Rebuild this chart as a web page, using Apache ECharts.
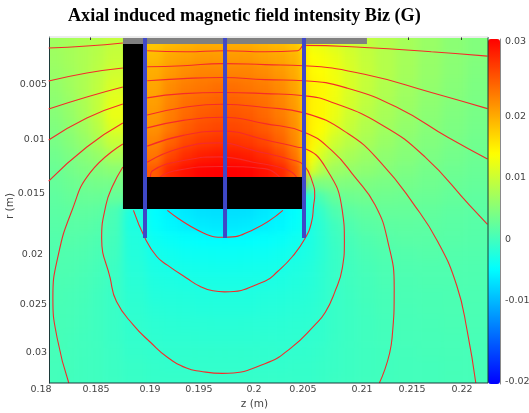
<!DOCTYPE html>
<html><head><meta charset="utf-8">
<style>html,body{margin:0;padding:0;background:#fff}#c{width:529px;height:413px}</style>
<script src="https://cdn.jsdelivr.net/npm/echarts@6/dist/echarts.min.js"></script>
</head><body><div id="c"></div>
<script>
// all lengths below are millimetres, field values are milligauss
const MM = 0.001, MG = 0.001;
const zEdges = [181.13,182.45,183.77,185.09,186.42,188.11,190.38,191.89,193.40,194.91,196.42,197.74,199.25,200.75,202.26,203.77,205.19,206.32,207.45,208.77,210.28,211.98,213.87,215.94,218.21,220.47,222.55];
const rEdges = [0.52,1.83,3.13,4.44,5.75,7.05,8.36,9.66,10.97,12.28,13.58,14.89,16.19,17.50,18.81,20.11,21.42,22.72,24.03,25.34,26.64,27.95,29.25,30.56,31.87,32.80];
const N = null;
const field = [
[7.0,7.5,8.0,8.6,9.6,N,18,19,19.5,20,20,20,20,19.5,19,18,13,12.5,11.5,10.5,9.5,8.5,7.5,6.5,5.5,4.8],
[6.8,7.4,8.0,8.8,9.9,N,19,20.5,21,21.5,21.5,21.5,21.5,21,20.5,19.5,14,13.5,12.5,11,9.7,8.5,7.4,6.4,5.5,4.8],
[6.5,7.2,8.0,9.0,10.5,N,20,21.5,22.5,23,23,23,23,22.5,21.5,20,14.5,14,13,11.3,9.8,8.5,7.3,6.3,5.4,4.7],
[6.1,7.0,8.0,9.3,11.2,N,20.5,22.5,23.5,24,24.5,24.5,24,23.5,22.5,20.5,15,14.5,13.2,11.3,9.7,8.3,7.1,6.1,5.2,4.5],
[5.7,6.6,7.9,9.5,12.0,N,21,23,24.5,25,25.5,25.5,25,24.5,23,21,15,14.5,13,11,9.4,8,6.8,5.8,5,4.3],
[5.2,6.2,7.6,9.5,12.5,N,21.5,23.5,25,26,26.5,26.5,26,25,23.5,21.5,15,14.5,12.6,10.5,8.9,7.6,6.5,5.5,4.7,4.1],
[4.7,5.7,7.0,8.8,11.6,N,22,24,26,27,27.5,27.5,27,26,24.5,22,15,14,11.8,9.8,8.3,7.1,6.1,5.2,4.5,3.9],
[4.2,5.1,6.2,7.8,10.0,N,23,25.5,27.5,28.5,29,29,28.5,27.5,25.5,22.5,15,13,10.4,8.9,7.6,6.5,5.6,4.8,4.2,3.6],
[3.6,4.4,5.3,6.3,7.8,N,24,27.5,29.5,30.5,31,31,30.5,29.5,27.5,24,14,11,8.8,7.6,6.7,5.8,5.1,4.4,3.8,3.3],
[3.1,3.8,4.5,5.0,5.6,N,26,30,31.5,32.5,32.7,32.7,32.5,31.5,30,26,12,8.5,7,6.3,5.7,5.1,4.5,3.9,3.4,3],
[2.7,3.2,3.6,3.9,3.9,N,N,N,N,N,N,N,N,N,N,N,4,4.5,4.8,4.7,4.5,4.2,3.9,3.5,3,2.7],
[2.3,2.7,2.9,2.9,2.7,N,N,N,N,N,N,N,N,N,N,N,-1.5,1,2.6,3.3,3.5,3.4,3.2,3,2.6,2.3],
[2.0,2.2,2.3,2.1,0.8,-2.5,-4.8,-5.6,-6.3,-6.8,-7,-7,-6.8,-6.3,-5.6,-4.6,-2.6,-0.8,1,2,2.5,2.7,2.7,2.5,2.2,2],
[1.7,1.8,1.8,1.5,0.5,-2.6,-4.5,-5.2,-5.7,-6.1,-6.3,-6.3,-6.1,-5.7,-5.2,-4.3,-2.8,-1.5,0,1.1,1.8,2.1,2.2,2.1,1.9,1.7],
[1.4,1.5,1.4,1.0,0.2,-2.3,-3.8,-4.2,-4.5,-4.7,-4.8,-4.8,-4.7,-4.5,-4.2,-3.6,-2.7,-1.6,-0.4,0.5,1.2,1.6,1.8,1.8,1.7,1.5],
[1.2,1.2,1.1,0.7,0,-2.1,-3.2,-3.5,-3.8,-3.9,-4,-4,-3.9,-3.8,-3.5,-3,-2.5,-1.6,-0.6,0.2,0.8,1.2,1.4,1.5,1.4,1.3],
[1.0,1.0,0.8,0.4,-0.3,-1.9,-2.8,-3,-3.2,-3.3,-3.4,-3.4,-3.3,-3.2,-3,-2.6,-2.2,-1.5,-0.7,0,0.5,0.9,1.1,1.2,1.2,1.1],
[0.8,0.8,0.6,0.2,-0.4,-1.7,-2.4,-2.6,-2.8,-2.9,-2.9,-2.9,-2.9,-2.8,-2.6,-2.3,-2,-1.4,-0.7,-0.1,0.3,0.7,0.9,1,1,1],
[0.7,0.6,0.4,0,-0.5,-1.5,-2.1,-2.2,-2.3,-2.4,-2.4,-2.4,-2.4,-2.3,-2.2,-2,-1.8,-1.3,-0.7,-0.2,0.2,0.5,0.7,0.8,0.9,0.9],
[0.6,0.5,0.3,-0.1,-0.5,-1.3,-1.8,-1.9,-2,-2.1,-2.1,-2.1,-2.1,-2,-1.9,-1.7,-1.6,-1.2,-0.7,-0.3,0.1,0.4,0.6,0.7,0.8,0.8],
[0.5,0.4,0.2,-0.1,-0.5,-1.2,-1.5,-1.6,-1.7,-1.7,-1.8,-1.8,-1.7,-1.7,-1.6,-1.5,-1.4,-1.1,-0.7,-0.3,0,0.3,0.5,0.6,0.7,0.7],
[0.4,0.3,0.1,-0.1,-0.5,-1,-1.3,-1.4,-1.4,-1.5,-1.5,-1.5,-1.5,-1.4,-1.4,-1.3,-1.2,-1,-0.6,-0.3,0,0.2,0.4,0.5,0.6,0.6],
[0.4,0.2,0.1,-0.1,-0.4,-0.9,-1.1,-1.2,-1.2,-1.2,-1.2,-1.2,-1.2,-1.2,-1.2,-1.1,-1,-0.8,-0.5,-0.3,-0.1,0.1,0.3,0.4,0.5,0.5],
[0.3,0.2,0,-0.1,-0.4,-0.7,-0.9,-1,-1,-1,-1,-1,-1,-1,-1,-0.9,-0.9,-0.7,-0.5,-0.3,-0.1,0.1,0.2,0.3,0.4,0.5],
[0.3,0.1,0,-0.1,-0.3,-0.6,-0.8,-0.8,-0.8,-0.8,-0.8,-0.8,-0.8,-0.8,-0.8,-0.8,-0.8,-0.6,-0.4,-0.2,0,0.1,0.2,0.3,0.4,0.4]
];
// curves: [z, r] in mm
const lineA = [[181.1,1.55],[184.7,1.36],[188.1,1.08]];
const lineB = [[181.1,4.63],[184.7,3.88],[188.1,3.41]];
const lineC = [[181.1,7.24],[184.7,6.12],[188.1,5.19]];
const lineD = [[181.1,10.13],[184.7,8.08],[188.1,6.77]];
const lineE = [[181.1,13.96],[184.7,10.78],[188.1,8.55]];
const lineF = [[188.1,10.5],[185.0,13.2],[183.3,16.7],[182.0,20.9],[181.5,24.9],[181.9,28.6],[183.0,32.8]];
const lineG = [[188.1,12.65],[187.1,14.5],[186.5,16.2],[186.1,19.3],[186.9,23.0],[187.5,25.2],[189.1,27.4],[190.7,29.0],[192.3,30.4],[194.1,31.4],[195.4,31.7],[197.5,31.9],[201.5,31.0],[204.0,29.5],[206.2,27.4],[207.2,26.2],[208.1,24.3],[208.8,22.1],[209.0,19.6],[208.8,16.7],[207.2,12.65],[205.2,10.9],[204.6,10.8],[201.5,10.1],[197.5,9.3],[193.8,9.7],[190.4,10.7]];
const lineH = [[189.1,16.7],[190.2,19.3],[191.3,21.0],[192.3,21.8],[194.1,23.0],[195.4,23.8],[196.6,24.2],[197.7,24.3],[201.5,23.3],[202.7,22.4],[204.1,21.0],[205.3,19.3],[205.9,17.8],[206.1,16.2],[206.2,15.3],[206.0,14.1],[205.2,12.5],[204.1,12.0],[200.4,11.1],[197.3,10.4],[193.5,10.9],[190.4,12.2]];
const lineI = [[192.3,16.7],[195.7,18.8],[197.7,19.2],[200.4,18.5],[203.2,16.7]];
const lineJ = [[190.7,13.6],[190.9,13.0],[194.1,12.0],[197.3,11.7],[200.4,12.2],[203.6,12.9],[204.5,13.6]];
const lineK = [[212.3,32.8],[213.5,28.6],[213.7,23.9],[213.1,19.6],[211.9,16.2],[210.0,13.6],[207.8,11.1],[205.2,9.4],[201.5,8.6],[197.5,8.0],[193.8,8.3],[190.4,9.0]];
const lineL = [[221.4,32.8],[220.6,28.0],[219.6,23.7],[217.8,19.6],[215.6,16.2],[212.5,12.3],[209.3,9.5],[205.2,7.6],[201.5,7.1],[197.5,6.8],[193.8,7.1],[190.4,7.8]];
const lineM = [[222.5,18.0],[220.8,16.2],[216.6,11.7],[212.5,8.7],[207.8,6.6],[205.2,6.0],[201.5,5.8],[197.5,5.7],[193.8,5.8],[190.4,6.2]];
const lineN = [[222.5,11.9],[218.8,9.9],[214.0,7.1],[209.3,5.3],[205.2,4.6],[201.5,4.5],[197.5,4.3],[193.8,4.4],[190.4,4.6]];
const lineO = [[222.5,7.2],[217.2,5.7],[210.9,4.0],[205.2,3.2],[201.5,3.1],[197.5,3.0],[193.8,3.2],[190.4,3.3]];
const lineP = [[222.5,2.3],[217.2,1.9],[210.9,1.5],[205.2,1.3],[204.6,1.8],[201.5,1.9],[197.7,1.8],[194.0,1.9],[190.4,1.8]];
const lineQ = [[191.6,13.6],[193.0,13.0],[197.3,12.6],[201.5,12.8],[202.9,13.6]];
const fieldLines = [lineA,lineB,lineC,lineD,lineE,lineF,lineG,lineH,lineI,lineJ,lineK,lineL,lineM,lineN,lineO,lineP,lineQ];
// magnet geometry: [z0, z1, r0, r1] in mm
const greyParts = [[188.11,211.13,0.62,1.18]];
const blackParts = [[188.11,190.2,1.18,16.57],[190.2,205.0,13.58,16.57]];
const probeZ = [190.19,197.74,205.19];
const probeR = [0.62,19.27];
// axis ticks and the places where their labels sit
const zLabels = ['0.18','0.185','0.19','0.195','0.2','0.205','0.21','0.215','0.22'];
const zLabelAt = [180.38,185.57,190.66,195.28,200.47,205.09,210.66,215.38,220.10];
const zTopTicks = [185,215,220];
const rLabels = ['0.005','0.01','0.015','0.02','0.025','0.03'];
const rLabelAt = [5.0,10.1,15.1,20.8,25.5,30.0];
const rLabelInset = [0,2,2,4,0,0];
const barLabels = ['0.03','0.02','0.01','0','-0.01','-0.02'];
const barLabelAt = [32.36,20.16,10.24,0.16,-9.9,-22.93];
const barTicks = [20,10,0,-10,-20];
const barMin = -23.4, barMax = 32.7;
const zMin = 180, zFrame = 181.13, zMax = 222.55, rMin = 0.52, rMax = 32.80;

// cells; the ones entirely behind the black magnet take the value of the visible neighbour
const cells = [];
const pushCell=(z0,z1,r0,r1,v)=>cells.push([z0*MM,z1*MM,r0*MM,r1*MM,v*MG]);
const coverRow = {10:9,11:12};
field.forEach((row,i)=>row.forEach((v,j)=>{
  const z0=zEdges[j],z1=zEdges[j+1],r0=rEdges[i],r1=rEdges[i+1];
  if (v!==null) { pushCell(z0,z1,r0,r1,v); return; }
  if (j===5) {
    const mid=(z0+z1)/2, right=row[6]!==null?row[6]:field[coverRow[i]][6];
    pushCell(z0,mid,r0,r1,row[4]); pushCell(mid,z1,r0,r1,right);
  } else pushCell(z0,z1,r0,r1,field[coverRow[i]][j]);
}));
const toM = p=>[p[0]*MM,p[1]*MM];
const rectItem = fill=>(params,api)=>{
  const a=api.coord([api.value(0),api.value(2)]), b=api.coord([api.value(1),api.value(3)]);
  return {type:'rect',shape:{x:a[0],y:a[1],width:b[0]-a[0],height:b[1]-a[1]},style:{fill}};
};
const labelStyle = {color:'#444',fontFamily:'DejaVu Sans',fontSize:9.5};
const UP = 1;
const series = [
 {type:'custom',name:'Biz',coordinateSystem:'cartesian2d',z:1,zlevel:0,silent:true,clip:false,
  encode:{x:[0,1],y:[2,3]},data:cells,
  renderItem:(params,api)=>{
    const z0=api.value(0),z1=api.value(1),r0=api.value(2),r1=api.value(3);
    const a=api.coord([z0,r0]), b=api.coord([z1,r1]);
    // outer cells run on past the frame so the soft edge falls outside the plot
    const pad=24;
    if (Math.abs(z0-zEdges[0]*MM)<1e-9) a[0]-=pad;
    if (Math.abs(z1-zEdges[zEdges.length-1]*MM)<1e-9) b[0]+=pad;
    if (Math.abs(r0-rEdges[0]*MM)<1e-9) a[1]-=pad;
    if (Math.abs(r1-rEdges[rEdges.length-1]*MM)<1e-9) b[1]+=pad;
    const c=api.visual('color');
    return {type:'rect',shape:{x:a[0],y:a[1],width:b[0]-a[0],height:b[1]-a[1]},style:{fill:c,stroke:c,lineWidth:0.6}};
  }},
 ...fieldLines.map(l=>({type:'line',z:2,zlevel:UP,data:l.map(toM),smooth:0.5,symbol:'none',silent:true,
   lineStyle:{color:'#f52a2a',width:1.1}})),
 {type:'custom',z:3,zlevel:UP,silent:true,encode:{x:[0,1],y:[2,3]},renderItem:rectItem('#808080'),data:greyParts.map(p=>p.map(v=>v*MM))},
 {type:'custom',z:3,zlevel:UP,silent:true,encode:{x:[0,1],y:[2,3]},renderItem:rectItem('#000000'),data:blackParts.map(p=>p.map(v=>v*MM))},
 ...probeZ.map(z=>({type:'line',z:4,zlevel:UP,symbol:'none',silent:true,data:probeR.map(r=>[z*MM,r*MM]),
   lineStyle:{color:'#3f48c8',width:4,cap:'butt'}})),
 {type:'line',z:5,zlevel:UP,symbol:'none',silent:true,clip:false,data:[[zFrame*MM,rMax*MM],[zMax*MM,rMax*MM]],lineStyle:{color:'#1c3a3a',width:1}},
 {type:'line',z:5,zlevel:UP,symbol:'none',silent:true,clip:false,data:[[zMax*MM,rMin*MM],[zMax*MM,rMax*MM]],lineStyle:{color:'#1c3a3a',width:1}},
 {type:'line',z:5,zlevel:UP,symbol:'none',silent:true,clip:false,data:[[zFrame*MM,rMin*MM],[zMax*MM,rMin*MM]],lineStyle:{color:'#d8d8d8',width:1}}
];
const option = {
 animation:false,backgroundColor:'transparent',
 title:{text:'Axial induced magnetic field intensity Biz (G)',left:68,top:7,padding:0,zlevel:UP,
   textStyle:{fontFamily:'Liberation Serif',fontWeight:'bold',fontSize:18.15,color:'#000'}},
 grid:[{left:37,top:37,width:451,height:346,containLabel:false,outerBoundsMode:'none'},
       {left:488,top:39,width:12,height:345,containLabel:false,outerBoundsMode:'none'}],
 xAxis:[
  {gridIndex:0,zlevel:UP,type:'value',min:zMin*MM,max:zMax*MM,position:'bottom',
   axisLine:{show:false},axisTick:{show:false},splitLine:{show:false},
   name:'z (m)',nameLocation:'middle',nameGap:16,nameMoveOverlap:false,
   nameTextStyle:{color:'#444',fontFamily:'DejaVu Sans',fontSize:10.5,padding:[0,16,0,0]},
   axisLabel:{...labelStyle,margin:2,hideOverlap:false,showMinLabel:true,showMaxLabel:true,
     customValues:zLabelAt.map(v=>v*MM),
     formatter:(v)=>{const i=zLabelAt.findIndex(a=>Math.abs(a*MM-v)<1e-7);return i<0?'':zLabels[i];}}},
  {gridIndex:0,zlevel:UP,type:'value',min:zMin*MM,max:zMax*MM,position:'top',
   axisLine:{show:false},splitLine:{show:false},axisLabel:{show:false},
   axisTick:{show:true,inside:true,length:3,lineStyle:{color:'#333'},customValues:zTopTicks.map(v=>v*MM)}},
  {gridIndex:1,type:'value',min:0,max:1,show:false}
 ],
 yAxis:[
  {gridIndex:0,zlevel:UP,type:'value',inverse:true,min:rMin*MM,max:rMax*MM,position:'left',offset:-12,
   axisLine:{show:true,onZero:false,lineStyle:{color:'#1c3a3a',width:1}},axisTick:{show:false},splitLine:{show:false},
   name:'r (m)',nameLocation:'middle',nameGap:33,nameRotate:90,nameMoveOverlap:false,
   nameTextStyle:{color:'#444',fontFamily:'DejaVu Sans',fontSize:10.5,padding:[0,0,0,8]},
   axisLabel:{...labelStyle,margin:2,hideOverlap:false,
     customValues:rLabelAt.map(v=>v*MM),
     formatter:(v)=>{const i=rLabelAt.findIndex(a=>Math.abs(a*MM-v)<1e-7);return i<0?'':'{i'+rLabelInset[i]+'|'+rLabels[i]+'}';},
     rich:{i0:{...labelStyle},i2:{...labelStyle,padding:[0,2,0,0]},i4:{...labelStyle,padding:[0,4,0,0]}}}},
  {gridIndex:1,zlevel:UP,type:'value',min:barMin*MG,max:barMax*MG,position:'right',
   axisLine:{show:true,onZero:false,lineStyle:{color:'#8a8a8a',width:1}},splitLine:{show:false},
   axisTick:{show:true,inside:true,length:3,lineStyle:{color:'#333'},customValues:barTicks.map(v=>v*MG)},
   axisLabel:{...labelStyle,margin:5,hideOverlap:false,customValues:barLabelAt.map(v=>v*MG),
     formatter:(v)=>{const i=barLabelAt.findIndex(a=>Math.abs(a*MG-v)<1e-7);return i<0?'':barLabels[i];}}}
 ],
 visualMap:[{type:'continuous',zlevel:UP,seriesIndex:0,dimension:4,min:barMin*MG,max:barMax*MG,
   left:488,top:39,itemWidth:12,itemHeight:345,padding:0,calculable:false,hoverLink:false,text:null,
   inRange:{color:['#0000ff','#00ffff','#ffff00','#ff0000']},textStyle:{fontSize:0}}],
 series
};
const host = document.getElementById('c');
const chart = echarts.init(host,null,{renderer:'canvas'});
// the field layer is the lowest canvas: soften its cells and keep it inside the frame
const soften = ()=>{
  const first = host.querySelector('canvas');
  if (first) { first.style.filter='blur(4px)'; first.style.clipPath='inset(38px 41px 30px 49px)'; }
};
chart.on('finished',soften);
chart.setOption(option);
soften();
</script></body></html>
